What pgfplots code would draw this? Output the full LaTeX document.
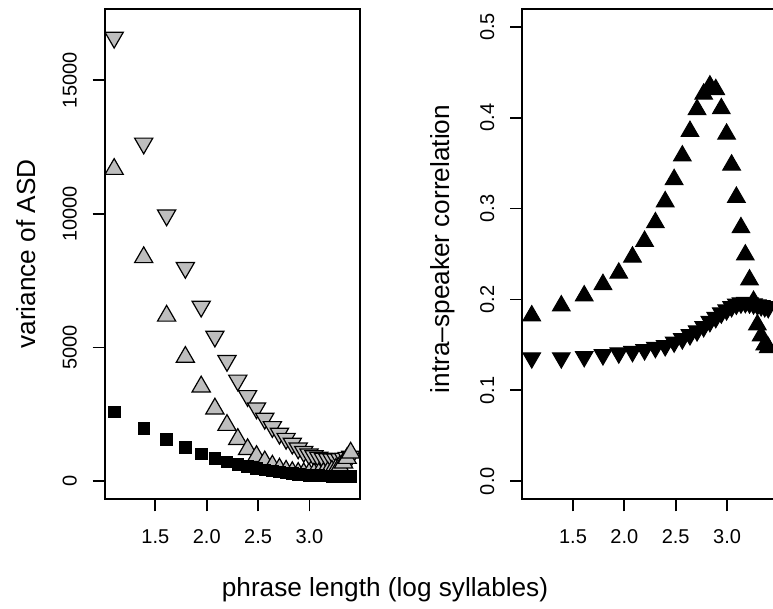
\documentclass[border=0pt]{standalone}
\usepackage{fontspec}
\setmainfont{Liberation Sans}
\usepackage{pgfplots}
\usepackage{pgfplotstable}
\pgfplotsset{compat=1.18}
\definecolor{rgrey}{HTML}{BEBEBE}

\pgfplotstableread{
x y
1.0986 16600
1.3863 12640
1.6094 9950
1.7918 7985
1.9459 6535
2.0794 5415
2.1972 4505
2.3026 3770
2.3979 3190
2.4849 2730
2.5649 2340
2.6391 2030
2.7081 1780
2.7726 1590
2.8332 1410
2.8904 1230
2.9444 1100
2.9957 1005
3.0445 940
3.0910 885
3.1355 845
3.1781 825
3.2189 815
3.2581 815
3.2958 830
3.3322 850
3.3673 880
3.4012 920
}\tabDown

\pgfplotstableread{
x y
1.0986 11676
1.3863 8373
1.6094 6184
1.7918 4643
1.9459 3535
2.0794 2709
2.1972 2095
2.3026 1570
2.3979 1190
2.4849 930
2.5649 730
2.6391 570
2.7081 460
2.7726 380
2.8332 330
2.8904 300
2.9444 285
2.9957 280
3.0445 280
3.0910 285
3.1355 300
3.1781 330
3.2189 380
3.2581 450
3.2958 550
3.3322 690
3.3673 860
3.4012 1060
}\tabUp

\pgfplotstableread{
x y
1.0986 2588
1.3863 1964
1.6094 1571
1.7918 1253
1.9459 1018
2.0794 842
2.1972 720
2.3026 620
2.3979 540
2.4849 475
2.5649 420
2.6391 375
2.7081 338
2.7726 306
2.8332 280
2.8904 258
2.9444 240
2.9957 225
3.0445 213
3.0910 203
3.1355 195
3.1781 189
3.2189 184
3.2581 181
3.2958 179
3.3322 178
3.3673 178
3.4012 180
}\tabSq

\pgfplotstableread{
x y
1.0986 0.182
1.3863 0.193
1.6094 0.204
1.7918 0.2165
1.9459 0.229
2.0794 0.2467
2.1972 0.264
2.3026 0.2845
2.3979 0.3076
2.4849 0.332
2.5649 0.358
2.6391 0.385
2.7081 0.409
2.7726 0.426
2.8332 0.435
2.8904 0.431
2.9444 0.410
2.9957 0.382
3.0445 0.348
3.0910 0.3125
3.1355 0.279
3.1781 0.249
3.2189 0.2215
3.2581 0.198
3.2958 0.172
3.3322 0.160
3.3673 0.150
3.4012 0.147
}\tabCorUp

\pgfplotstableread{
x y
1.0986 0.1356
1.3863 0.1356
1.6094 0.137
1.7918 0.139
1.9459 0.141
2.0794 0.1426
2.1972 0.1445
2.3026 0.147
2.3979 0.149
2.4849 0.153
2.5649 0.1566
2.6391 0.161
2.7081 0.1654
2.7726 0.170
2.8332 0.1756
2.8904 0.180
2.9444 0.185
2.9957 0.1885
3.0445 0.192
3.0910 0.1947
3.1355 0.196
3.1781 0.1965
3.2189 0.196
3.2581 0.195
3.2958 0.194
3.3322 0.193
3.3673 0.192
3.4012 0.191
}\tabCorDown

\pgfplotsset{
  rbox/.style={
    scale only axis, width=127.7pt, height=245.3pt,
    xmin=1.0065, xmax=3.4933,
    axis line style={line width=0.9pt},
    every tick/.style={line width=0.9pt, black},
    tick align=outside, major tick length=6pt,
    tick pos=left,
    scaled x ticks=false, scaled y ticks=false,
    xtick={1.5,2,2.5,3}, xticklabels={1.5,2.0,2.5,3.0},
    tick label style={font=\fontsize{10}{12}\selectfont},
    xticklabel style={anchor=north, inner sep=0pt},
    yticklabel style={rotate=90, anchor=south, inner sep=0pt},
    xticklabel shift=9pt, yticklabel shift=7.75pt,
  },
  grayup/.style={only marks, mark=triangle*, mark size=5.25pt,
    mark options={fill=rgrey, draw=black, line width=0.6pt}},
  graydown/.style={only marks, mark=triangle*, mark size=5.25pt,
    mark options={fill=rgrey, draw=black, line width=0.6pt, rotate=180}},
  blackup/.style={only marks, mark=triangle*, mark size=5.1pt,
    mark options={fill=black, draw=black, line width=0.5pt}},
  blackdown/.style={only marks, mark=triangle*, mark size=5.1pt,
    mark options={fill=black, draw=black, line width=0.5pt, rotate=180}},
}

\begin{document}
\begin{tikzpicture}[x=1pt,y=1pt]
\useasboundingbox (0pt,0pt) rectangle (386.5pt,304.5pt);
\clip (0pt,0pt) rectangle (386.5pt,304.5pt);

\begin{axis}[rbox, at={(52.35pt,54.85pt)}, anchor=south west,
  ymin=-680, ymax=17680,
  ytick={0,5000,10000,15000}, yticklabels={0,5000,10000,15000}]
  \addplot[graydown] table {\tabDown};
  \addplot[grayup] table {\tabUp};
  \addplot[only marks, mark=square*, mark size=2.9pt,
    mark options={fill=black, draw=none}] table {\tabSq};
\end{axis}

\begin{axis}[rbox, at={(261.15pt,54.85pt)}, anchor=south west,
  ymin=-0.02, ymax=0.52,
  ytick={0,0.1,0.2,0.3,0.4,0.5}, yticklabels={0.0,0.1,0.2,0.3,0.4,0.5}]
  \addplot[blackup] table {\tabCorUp};
  \addplot[blackdown] table {\tabCorDown};
\end{axis}

\node[rotate=90, font=\fontsize{13.1}{15}\selectfont] at (13pt,177.5pt) {variance of ASD};
\node[rotate=90, font=\fontsize{13.1}{15}\selectfont] at (221.5pt,180pt) {intra--speaker correlation};
\node[anchor=base, font=\fontsize{13.1}{15}\selectfont] at (192.5pt,6pt) {phrase length (log syllables)};
\end{tikzpicture}
\end{document}
